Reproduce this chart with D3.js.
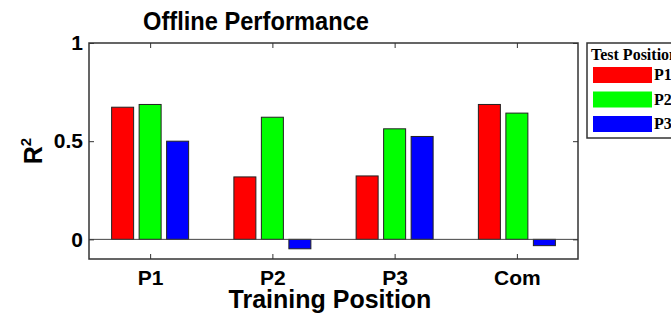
<!DOCTYPE html>
<html>
<head>
<meta charset="utf-8">
<script src="https://cdn.jsdelivr.net/npm/d3@7"></script>
<style>
  body { margin: 0; background: #fff; }
  svg { display: block; }
</style>
</head>
<body>
<div id="chart"></div>
<script>
// Data
var trainPositions = ["P1", "P2", "P3", "Com"];
var testPositions = ["P1", "P2", "P3"];
var testColors = ["#ff0000", "#00ff00", "#0000ff"];
var r2P1 = [0.673, 0.318, 0.323, 0.687];
var r2P2 = [0.687, 0.622, 0.563, 0.643];
var r2P3 = [0.500, -0.048, 0.524, -0.032];
var yTicks = [0, 0.5, 1];

var seriesValues = [r2P1, r2P2, r2P3];

var svgWidth = 671;
var svgHeight = 315;

// plot box
var chartMargin = { top: 43, right: 93, bottom: 56, left: 89 };
var chartWidth = svgWidth - chartMargin.left - chartMargin.right;
var chartHeight = svgHeight - chartMargin.top - chartMargin.bottom;

var sansFont = "Arial, 'Liberation Sans', sans-serif";
var serifFont = "'Times New Roman', 'Liberation Serif', serif";

var svg = d3.select("#chart")
  .append("svg")
  .attr("width", svgWidth)
  .attr("height", svgHeight);

var chartGroup = svg.append("g")
  .attr("transform", `translate(${chartMargin.left}, ${chartMargin.top})`);

// x: categories centred on integer slots 1..4, limits 0.5..4.5
var xScale = d3.scaleLinear()
  .domain([0.5, trainPositions.length + 0.5])
  .range([0, chartWidth]);

var yScale = d3.scaleLinear()
  .domain([-0.1, 1])
  .range([chartHeight, 0]);

var barWidth = 22;
var barStep = 27.5;

// bars
testPositions.forEach(function(tp, s) {
  chartGroup.selectAll(null)
    .data(seriesValues[s])
    .enter()
    .append("rect")
    .attr("x", (d, i) => xScale(i + 1) + (s - 1) * barStep - barWidth / 2)
    .attr("y", d => yScale(Math.max(0, d)))
    .attr("width", barWidth)
    .attr("height", d => Math.abs(yScale(d) - yScale(0)))
    .attr("fill", testColors[s])
    .attr("stroke", "#222")
    .attr("stroke-width", 1);
});

// zero line
chartGroup.append("line")
  .attr("x1", 0)
  .attr("x2", chartWidth)
  .attr("y1", yScale(0))
  .attr("y2", yScale(0))
  .attr("stroke", "#444")
  .attr("stroke-width", 1);

// axis box
chartGroup.append("rect")
  .attr("x", 0)
  .attr("y", 0)
  .attr("width", chartWidth)
  .attr("height", chartHeight)
  .attr("fill", "none")
  .attr("stroke", "#333")
  .attr("stroke-width", 1.5);

// bottom axis, ticks pointing inward
var bottomAxis = d3.axisBottom(xScale)
  .tickValues(d3.range(1, trainPositions.length + 1))
  .tickFormat(d => trainPositions[d - 1])
  .tickSizeInner(-5)
  .tickSizeOuter(0)
  .tickPadding(11);

var xAxis = chartGroup.append("g")
  .attr("transform", `translate(0, ${chartHeight})`)
  .call(bottomAxis);
xAxis.select(".domain").remove();
xAxis.selectAll("line").attr("stroke", "#333");
xAxis.selectAll("text")
  .attr("fill", "#000")
  .style("font-family", sansFont)
  .style("font-size", "21px")
  .style("font-weight", "bold");

// top ticks
var topAxis = d3.axisTop(xScale)
  .tickValues(d3.range(1, trainPositions.length + 1))
  .tickFormat("")
  .tickSizeInner(-5)
  .tickSizeOuter(0);
var xTop = chartGroup.append("g").call(topAxis);
xTop.select(".domain").remove();
xTop.selectAll("line").attr("stroke", "#333");

// left axis
var leftAxis = d3.axisLeft(yScale)
  .tickValues(yTicks)
  .tickFormat(d => d)
  .tickSizeInner(-5)
  .tickSizeOuter(0)
  .tickPadding(6);
var yAxis = chartGroup.append("g").call(leftAxis);
yAxis.select(".domain").remove();
yAxis.selectAll("line").attr("stroke", "#333");
yAxis.selectAll("text")
  .attr("fill", "#000")
  .style("font-family", sansFont)
  .style("font-size", "21px")
  .style("font-weight", "bold");

// right ticks
var rightAxis = d3.axisRight(yScale)
  .tickValues(yTicks)
  .tickFormat("")
  .tickSizeInner(-5)
  .tickSizeOuter(0);
var yRight = chartGroup.append("g")
  .attr("transform", `translate(${chartWidth}, 0)`)
  .call(rightAxis);
yRight.select(".domain").remove();
yRight.selectAll("line").attr("stroke", "#333");

// title
svg.append("text")
  .attr("x", 256)
  .attr("y", 30)
  .attr("text-anchor", "middle")
  .attr("textLength", 226)
  .attr("lengthAdjust", "spacingAndGlyphs")
  .style("font-family", sansFont)
  .style("font-size", "25px")
  .style("font-weight", "bold")
  .text("Offline Performance");

// x label
svg.append("text")
  .attr("x", 330)
  .attr("y", 308)
  .attr("text-anchor", "middle")
  .style("font-family", sansFont)
  .style("font-size", "25px")
  .style("font-weight", "bold")
  .text("Training Position");

// y label R^2
var yLabel = svg.append("text")
  .attr("transform", `translate(42, ${chartMargin.top + chartHeight / 2}) rotate(-90)`)
  .attr("text-anchor", "middle")
  .style("font-family", sansFont)
  .style("font-size", "25px")
  .style("font-weight", "bold");
yLabel.append("tspan").text("R");
yLabel.append("tspan")
  .attr("dy", -11)
  .style("font-size", "15px")
  .text("2");

// legend
var legend = svg.append("g")
  .attr("transform", "translate(587, 43)");

legend.append("rect")
  .attr("x", 0)
  .attr("y", 0)
  .attr("width", 100)
  .attr("height", 95)
  .attr("fill", "#fff")
  .attr("stroke", "#333")
  .attr("stroke-width", 1.5);

legend.append("text")
  .attr("x", 4)
  .attr("y", 17)
  .style("font-family", serifFont)
  .style("font-size", "16px")
  .style("font-weight", "bold")
  .text("Test Position");

var legendItems = legend.selectAll(".legend-item")
  .data(testPositions)
  .enter()
  .append("g")
  .attr("transform", (d, i) => `translate(6, ${24 + i * 24.5})`);

legendItems.append("rect")
  .attr("width", 59)
  .attr("height", 16)
  .attr("fill", (d, i) => testColors[i]);

legendItems.append("text")
  .attr("x", 61)
  .attr("y", 13)
  .style("font-family", serifFont)
  .style("font-size", "16px")
  .style("font-weight", "bold")
  .text(d => d);
</script>
</body>
</html>
